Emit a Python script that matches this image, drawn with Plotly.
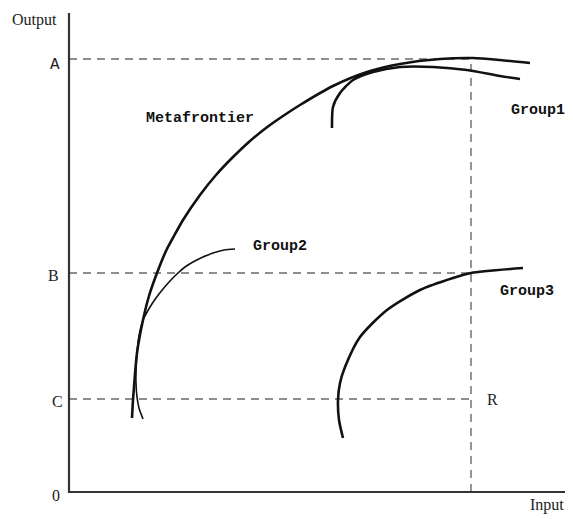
import plotly.graph_objects as go

# ---- data (input on x, output on y) ----
meta_x = [63, 64, 65, 68, 74, 80, 88, 97, 105, 114, 131, 147, 164, 181, 197, 214, 231, 264, 298, 331, 371, 404, 431, 461]
meta_y = [74, 92, 105, 139, 172, 196, 219, 241, 256, 272, 297, 317, 335, 351, 364, 376, 387, 406, 420, 428, 433, 434, 432, 429]

g1_x = [263, 264, 271, 284, 304, 331, 364, 398, 431, 451]
g1_y = [364, 385, 399, 412, 420, 425, 425, 422, 416, 413]

g2_x = [166, 155, 144, 134, 124, 116, 109, 101, 94, 87, 81, 77, 74, 70, 68, 67, 67, 68, 70, 74]
g2_y = [243, 242, 239, 235, 230, 225, 219, 211, 203, 194, 185, 178, 172, 156, 139, 122, 109, 95, 84, 73]

g3_x = [274, 270, 269, 271, 276, 291, 318, 351, 384, 402, 454]
g3_y = [54, 72, 92, 109, 125, 155, 182, 202, 214, 219, 224]

level_names = ["A", "B", "C"]
level_values = [433, 219, 93]
R_input = 402

x_max = 504
y_max = 479

fig = go.Figure()

dash_style = dict(color="#6a6a6a", width=1.4, dash="8px,6px")

# dashed reference lines
for v in level_values:
    fig.add_trace(go.Scatter(x=[0, R_input], y=[v, v], mode="lines",
                             line=dash_style, hoverinfo="skip"))
fig.add_trace(go.Scatter(x=[R_input, R_input], y=[0, level_values[0]], mode="lines",
                         line=dash_style, hoverinfo="skip"))

# curves
fig.add_trace(go.Scatter(x=g2_x, y=g2_y, mode="lines",
                         line=dict(color="#111", width=1.6, shape="spline", smoothing=0.7)))
fig.add_trace(go.Scatter(x=meta_x, y=meta_y, mode="lines",
                         line=dict(color="#111", width=2.6, shape="spline", smoothing=0.7)))
fig.add_trace(go.Scatter(x=g1_x, y=g1_y, mode="lines",
                         line=dict(color="#111", width=2.6, shape="spline", smoothing=0.7)))
fig.add_trace(go.Scatter(x=g3_x, y=g3_y, mode="lines",
                         line=dict(color="#111", width=2.6, shape="spline", smoothing=0.7)))

# axes lines
fig.add_trace(go.Scatter(x=[0, 0, x_max], y=[y_max, 0, 0], mode="lines",
                         line=dict(color="#333", width=2.2), hoverinfo="skip"))

serif = dict(family="Liberation Serif, Times New Roman, serif", size=16, color="#222")
mono = dict(family="Liberation Mono, DejaVu Sans Mono, monospace", size=15, color="#111")

ann = []
ann.append(dict(x=-35, y=472, text="Output", font=serif))
ann.append(dict(x=478, y=-13, text="Input", font=serif))
label_x = [-14, -16, -12]
for name, v, lx in zip(level_names, level_values, label_x):
    ann.append(dict(x=lx, y=v - 6 if name == "A" else v - 2, text=name,
                    font=(dict(family="Liberation Mono, monospace", size=16, color="#222") if name == "A" else serif)))
ann.append(dict(x=-13, y=-3, text="0", font=serif))
ann.append(dict(x=423, y=level_values[2], text="R", font=serif))
ann.append(dict(x=131, y=374, text="<b>Metafrontier</b>", font=mono))
ann.append(dict(x=469, y=382, text="<b>Group1</b>", font=mono))
ann.append(dict(x=211, y=246, text="<b>Group2</b>", font=mono))
ann.append(dict(x=458, y=201, text="<b>Group3</b>", font=mono))
for a in ann:
    a.update(xref="x", yref="y", showarrow=False, xanchor="center", yanchor="middle")

# the page body adds an 8px offset, so the figure is 565x511 and ranges are shifted
fig.update_layout(
    width=565, height=511,
    margin=dict(l=0, r=0, t=0, b=0),
    paper_bgcolor="white", plot_bgcolor="white",
    showlegend=False,
    xaxis=dict(range=[-61, 504], visible=False, fixedrange=True),
    yaxis=dict(range=[-27, 484], visible=False, fixedrange=True),
    annotations=ann,
)

fig.write_html("out.html")
